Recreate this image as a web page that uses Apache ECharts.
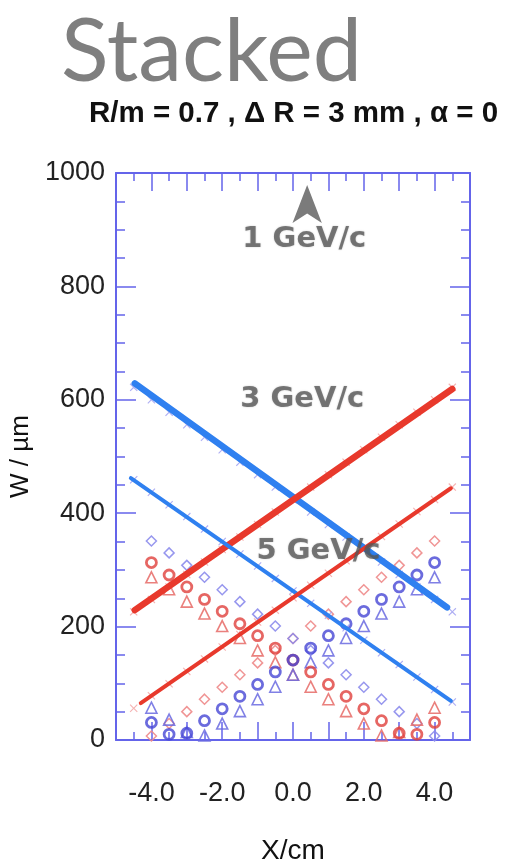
<!DOCTYPE html>
<html>
<head>
<meta charset="utf-8">
<script src="https://cdn.jsdelivr.net/npm/echarts@6.0.0/dist/echarts.min.js"></script>
<style>
  html, body { margin: 0; padding: 0; background: #fff; }
  #main { width: 506px; height: 866px; }
</style>
</head>
<body>
<div id="main"></div>
<script>
// marker positions along X (cm)
const xPos = [-4.0, -3.5, -3.0, -2.5, -2.0, -1.5, -1.0, -0.5, 0.0, 0.5, 1.0, 1.5, 2.0, 2.5, 3.0, 3.5, 4.0];
// 1 GeV/c points
const redCircle    = [313, 291, 270, 248, 227, 205, 184, 162, 141, 120, 98, 77, 55, 34, 12, 10, 31];
const blueCircle   = [31, 10, 12, 34, 55, 77, 98, 120, 141, 162, 184, 205, 227, 248, 270, 291, 313];
const redTriangle  = [287, 266, 244, 223, 201, 180, 158, 137, 115, 94, 72, 51, 29, 8, 14, 36, 57];
const blueTriangle = [57, 36, 14, 8, 29, 51, 72, 94, 115, 137, 158, 180, 201, 223, 244, 266, 287];
const redDiamond   = [7, 29, 50, 72, 93, 115, 136, 158, 179, 201, 222, 244, 265, 287, 308, 330, 351];
const blueDiamond  = [351, 330, 308, 287, 265, 244, 222, 201, 179, 158, 136, 115, 93, 72, 50, 29, 7];

// cross markers along the fitted lines
const crossX = [-4.5, -4.0, -3.5, -3.0, -2.5, -2.0, -1.5, -1.0, -0.5, 0.0, 0.5, 1.0, 1.5, 2.0, 2.5, 3.0, 3.5, 4.0, 4.5];
const blue3Cross = [622, 600, 578, 556, 534, 512, 490, 468, 446, 424, 402, 380, 358, 336, 314, 292, 270, 248, 226];
const red3Cross  = [226, 248, 270, 292, 314, 336, 358, 380, 402, 424, 446, 468, 490, 512, 534, 556, 578, 600, 622];
const blue5Cross = [459, 437, 415, 394, 372, 350, 328, 307, 285, 263, 241, 220, 198, 176, 154, 133, 111, 89, 67];
const red5Cross  = [56, 78, 99, 121, 143, 164, 186, 208, 229, 251, 273, 294, 316, 338, 359, 381, 403, 424, 446];

// line end points [x, W]
const blue3Line = [[-4.47, 629], [4.35, 234]];
const red3Line  = [[-4.47, 229], [4.5, 619]];
const blue5Line = [[-4.58, 462], [4.46, 69]];
const red5Line  = [[-4.3, 65], [4.46, 444]];

const momentumLabels = [[0.32, 882, '1 GeV/c'], [0.26, 600, '3 GeV/c'], [0.72, 332, '5 GeV/c']];
// arrow tip position
const arrowPoint = [[0.4, 979]];

const pair = (xs, ys) => xs.map((x, i) => [x, ys[i]]);

const axisBlue = '#6464ea';
const crossPath = 'path://M0,1L1,0L5,4L9,0L10,1L6,5L10,9L9,10L5,6L1,10L0,9L4,5Z';

function marker(data, symbol, size, color, bw, opacity) {
  return {
    type: 'scatter', data: data, symbol: symbol, symbolSize: size, z: 2,
    itemStyle: { color: 'transparent', borderColor: color, borderWidth: bw, opacity: opacity },
    emphasis: { disabled: true }, silent: true
  };
}
function crosses(data, color) {
  return {
    type: 'scatter', data: data, symbol: crossPath, symbolSize: 8, z: 3,
    itemStyle: { color: color }, silent: true
  };
}
function fitLine(data, color, width) {
  return {
    type: 'line', data: data, symbol: 'none', z: 4, silent: true,
    lineStyle: { color: color, width: width, cap: 'round' }
  };
}

const chart = echarts.init(document.getElementById('main'));

const xBase = {
  type: 'value', min: -5, max: 5, interval: 1,
  axisLine: { show: true, onZero: false, lineStyle: { color: axisBlue, width: 2 } },
  axisTick: { show: true, inside: true, length: 18, lineStyle: { color: axisBlue, width: 1.5 } },
  minorTick: { show: true, splitNumber: 2, length: 8, lineStyle: { color: axisBlue, width: 1.5 } },
  splitLine: { show: false }
};
const yBase = {
  type: 'value', min: 0, max: 1000, interval: 200,
  axisLine: { show: true, onZero: false, lineStyle: { color: axisBlue, width: 2 } },
  axisTick: { show: true, inside: true, length: 20, lineStyle: { color: axisBlue, width: 1.5 } },
  minorTick: { show: true, splitNumber: 4, length: 9, lineStyle: { color: axisBlue, width: 1.5 } },
  splitLine: { show: false }
};

const option = {
  backgroundColor: '#fff',
  animation: false,
  title: [
    { text: 'Stacked', left: 56, top: 4,
      textStyle: { fontSize: 88, fontFamily: 'Lato', fontWeight: 'normal', color: '#7f7f7f' } },
    { text: 'R/m = 0.7 , \u0394 R = 3 mm , \u03b1 = 0', left: 84, top: 94,
      textStyle: { fontSize: 29.5, fontFamily: 'Liberation Sans', fontWeight: 'bold', color: '#111' } }
  ],
  grid: { left: 116, right: 36, top: 173, bottom: 126, outerBoundsMode: 'none', containLabel: false },
  xAxis: [
    Object.assign({}, xBase, {
      position: 'bottom', name: 'X/cm', nameLocation: 'middle', nameGap: 97,
      nameTextStyle: { fontSize: 28, fontFamily: 'Liberation Sans', color: '#111' },
      axisLabel: { margin: 40, fontSize: 27, fontFamily: 'Liberation Sans', color: '#222',
        formatter: v => (v % 2 === 0 ? v.toFixed(1) : '') }
    }),
    Object.assign({}, xBase, { position: 'top', axisLabel: { show: false } })
  ],
  yAxis: [
    Object.assign({}, yBase, {
      position: 'left', name: 'W / \u00b5m', nameLocation: 'middle', nameGap: 76,
      nameTextStyle: { fontSize: 26, fontFamily: 'Liberation Sans', color: '#111' },
      axisLabel: { margin: 11, fontSize: 27, fontFamily: 'Liberation Sans', color: '#222',
        formatter: v => String(v) }
    }),
    Object.assign({}, yBase, { position: 'right', axisLabel: { show: false } })
  ],
  series: [
    marker(pair(xPos, redDiamond), 'diamond', 10, '#ee8a8a', 1.5, 0.9),
    marker(pair(xPos, blueDiamond), 'diamond', 10, '#8c8cec', 1.5, 0.9),
    marker(pair(xPos, redTriangle), 'triangle', 11, '#e66a66', 1.6, 0.85),
    marker(pair(xPos, blueTriangle), 'triangle', 11, '#6a6ae0', 1.6, 0.85),
    marker(pair(xPos, redCircle), 'circle', 10, '#e0403c', 2.8, 0.8),
    marker(pair(xPos, blueCircle), 'circle', 10, '#4646d4', 2.8, 0.8),
    crosses(pair(crossX, blue3Cross), '#9a9af0'),
    crosses(pair(crossX, red3Cross), '#f2a0a0'),
    crosses(pair(crossX, blue5Cross), '#9a9af0'),
    crosses(pair(crossX, red5Cross), '#f2a0a0'),
    fitLine(blue3Line, '#2f80f0', 6.5),
    fitLine(red3Line, '#e8392c', 6.5),
    fitLine(blue5Line, '#2f80f0', 4),
    fitLine(red5Line, '#e8392c', 4),
    {
      type: 'scatter', data: arrowPoint, symbol: 'arrow', symbolSize: [22, 38], z: 6, silent: true,
      itemStyle: { color: '#5a5a5a' }
    },
    {
      type: 'scatter', z: 7, silent: true, symbol: 'circle', symbolSize: 1,
      itemStyle: { color: 'rgba(0,0,0,0)' },
      data: momentumLabels.map(d => ({ value: [d[0], d[1]], name: d[2] })),
      label: {
        show: true, position: 'inside', formatter: p => p.name,
        fontSize: 29, fontWeight: 'bold', fontFamily: 'DejaVu Sans', color: '#5a5a5a',
        textShadowColor: 'rgba(0,0,0,0.25)', textShadowBlur: 2
      }
    }
  ]
};

chart.setOption(option);
</script>
</body>
</html>
